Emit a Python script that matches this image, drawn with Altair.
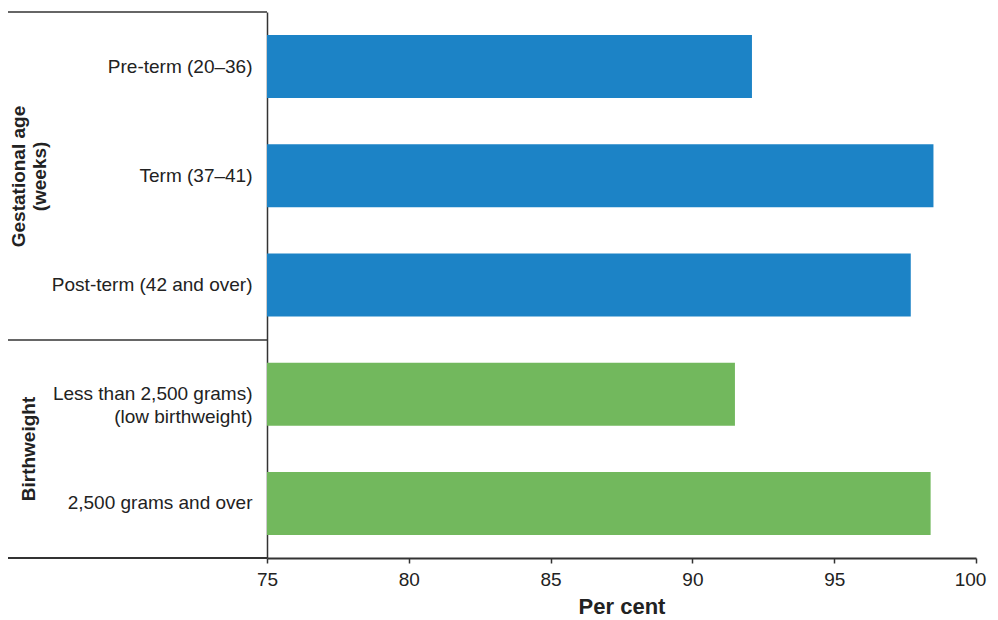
import altair as alt
import pandas as pd

categories = [
    "Pre-term (20–36)",
    "Term (37–41)",
    "Post-term (42 and over)",
    "Less than 2,500 grams)|(low birthweight)",
    "2,500 grams and over",
]
values = [92.1, 98.5, 97.7, 91.5, 98.4]
groups = ["Gestational", "Gestational", "Gestational", "Birthweight", "Birthweight"]
x_ticks = [75, 80, 85, 90, 95, 100]
x_domain = [75, 100]
group_labels = ["Gestational age|(weeks)", "Birthweight"]

df = pd.DataFrame({"category": categories, "value": values, "group": groups})

W, H = 709, 546
FONT = "Liberation Sans"
LINE = "#333333"

bars = alt.Chart(df).mark_bar().encode(
    x=alt.X(
        "value:Q",
        scale=alt.Scale(domain=x_domain, nice=False, zero=False),
        axis=alt.Axis(
            values=x_ticks,
            title="Per cent",
            titleFontSize=22,
            titleFontWeight="bold",
            titleFont=FONT,
            titleColor="#222222",
            titlePadding=7,
            labelFontSize=19,
            labelFont=FONT,
            labelColor="#222222",
            labelPadding=7,
            labelFlush=False,
            labelOffset={"condition": {"test": "datum.value == 100", "value": -6}, "value": 0},
            tickSize=5,
            tickColor=LINE,
            tickWidth=1.5,
            domainColor=LINE,
            domainWidth=2,
            grid=False,
        ),
    ),
    x2=alt.X2(datum=x_domain[0]),
    y=alt.Y(
        "category:N",
        sort=categories,
        scale=alt.Scale(paddingInner=0.423, paddingOuter=0.2115),
        axis=alt.Axis(
            title=None,
            labelExpr="split(datum.value, '|')",
            labelFontSize=19,
            labelFont=FONT,
            labelColor="#222222",
            labelPadding=15,
            labelLineHeight=23,
            ticks=False,
            domainColor=LINE,
            domainWidth=1.5,
            labelLimit=300,
        ),
    ),
    color=alt.Color(
        "group:N",
        scale=alt.Scale(domain=["Gestational", "Birthweight"], range=["#1c83c6", "#72b85d"]),
        legend=None,
    ),
)

rule_df = pd.DataFrame({"k": [0]})
top_rule = alt.Chart(rule_df).mark_rule(color=LINE, strokeWidth=1.5).encode(
    x=alt.value(-259), x2=alt.value(0), y=alt.value(0)
)
mid_rule = alt.Chart(rule_df).mark_rule(color=LINE, strokeWidth=1.5).encode(
    x=alt.value(-259), x2=alt.value(0), y=alt.value(328)
)
bottom_rule = alt.Chart(rule_df).mark_rule(color=LINE, strokeWidth=2).encode(
    x=alt.value(-259), x2=alt.value(0), y=alt.value(H)
)

gest_label = alt.Chart(pd.DataFrame({"t": [group_labels[0]]})).mark_text(
    angle=270, align="center", baseline="middle", fontSize=19, fontWeight="bold",
    font=FONT, color="#222222", lineBreak="|", lineHeight=21,
).encode(text="t:N", x=alt.value(-248), y=alt.value(164.5))

birth_label = alt.Chart(pd.DataFrame({"t": [group_labels[1]]})).mark_text(
    angle=270, align="center", baseline="middle", fontSize=19, fontWeight="bold",
    font=FONT, color="#222222",
).encode(text="t:N", x=alt.value(-238), y=alt.value(437))

chart = alt.layer(bars, top_rule, mid_rule, bottom_rule, gest_label, birth_label).properties(
    width=W,
    height=H,
    autosize=alt.AutoSizeParams(type="none"),
    padding={"left": 259, "top": 4, "right": 14, "bottom": 64},
    background="white",
).configure_view(stroke=None)

chart.save("out.html", embed_options={"renderer": "svg", "actions": False})
